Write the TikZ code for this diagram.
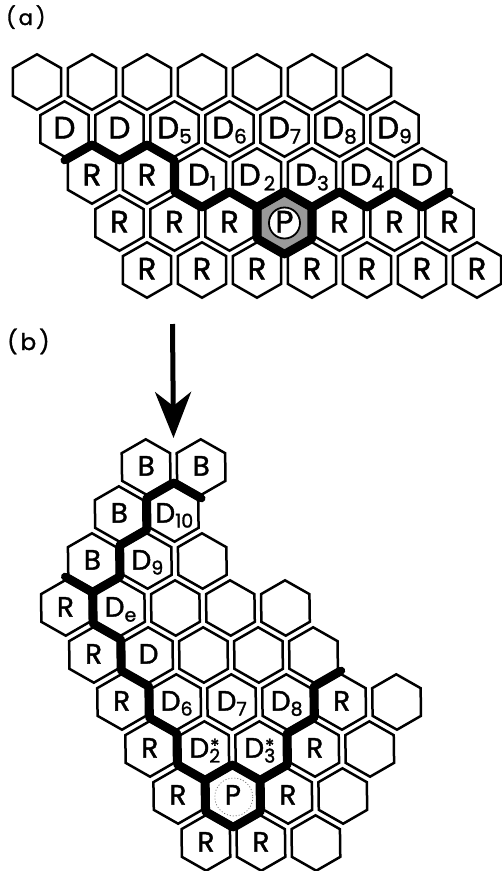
\documentclass[tikz,border=0pt]{standalone}
\usepackage{fontspec}
\setmainfont{Poppins}[FakeBold=1.4]
\usetikzlibrary{arrows.meta}
\tikzset{
  hexline/.style={line width=2.5pt, line join=miter},
  bnd/.style={line width=8pt, line cap=round, line join=round},
  lbla/.style={font=\fontsize{31}{31}\selectfont, inner sep=0pt, anchor=base},
  lblb/.style={font=\fontsize{28}{28}\selectfont, inner sep=0pt, anchor=base},
  partlbl/.style={inner sep=0pt, anchor=base west},
  bigarrow/.style={line width=5pt, -{Stealth[length=46pt, width=36pt, inset=14pt]}},
}
\newcommand\hexat[2]{\draw[hexline] (#1,#2) ++(0,-27.7) -- ++(24.2,13.85) -- ++(0,27.7) -- ++(-24.2,13.85) -- ++(-24.2,-13.85) -- ++(0,-27.7) -- cycle;}
\newcommand\ca[4]{\hexat{#2}{#3}\node[lbla] (#1) at (#2,#3+9.5) {#4};}
\newcommand\cb[4]{\hexat{#2}{#3}\node[lblb] (#1) at (#2,#3+8.6) {#4};}
\newcommand\lsuba[1]{\raisebox{-5pt}{\fontsize{20}{20}\selectfont #1}}
\newcommand\lsubb[1]{\raisebox{-5pt}{\fontsize{19}{19}\selectfont #1}}
\newcommand\lstar[1]{\makebox[0pt][l]{\hspace{1pt}\raisebox{5pt}{\fontsize{19}{19}\selectfont *}}\lsubb{#1}}
\begin{document}
\begin{tikzpicture}[x=1pt,y=-1pt]
\useasboundingbox (0,0) rectangle (502,871);

% ---------------- (a) ----------------
\node[partlbl, font=\fontsize{21}{21}\selectfont] (labela) at (6,25) {(\hspace{3pt}a\hspace{3pt})};

% grey ring of P
\fill[black!40] (284.5,223) ++(0,-27.7) -- ++(24.2,13.85) -- ++(0,27.7) -- ++(-24.2,13.85) -- ++(-24.2,-13.85) -- ++(0,-27.7) -- cycle;

% row 1
\foreach \i in {0,...,6} {\hexat{37+55*\i}{82}}
% row 2
\ca{a21}{64.5}{129}{D}
\ca{a22}{119.5}{129}{D}
\ca{a23}{174.5}{129}{D\lsuba{5}}
\ca{a24}{229.5}{129}{D\lsuba{6}}
\ca{a25}{284.5}{129}{D\lsuba{7}}
\ca{a26}{339.5}{129}{D\lsuba{8}}
\ca{a27}{394.5}{129}{D\lsuba{9}}
% row 3
\ca{a31}{92}{176}{R}
\ca{a32}{147}{176}{R}
\ca{a33}{202}{176}{D\lsuba{1}}
\ca{a34}{257}{176}{D\hspace{3pt}\lsuba{2}}
\ca{a35}{312}{176}{D\lsuba{3}}
\ca{a36}{367}{176}{D\lsuba{4}}
\ca{a37}{422}{176}{D}
% row 4
\ca{a41}{119.5}{223}{R}
\ca{a42}{174.5}{223}{R}
\ca{a43}{229.5}{223}{R}
\hexat{284.5}{223}
\ca{a45}{339.5}{223}{R}
\ca{a46}{394.5}{223}{R}
\ca{a47}{449.5}{223}{R}
% row 5
\ca{a51}{147}{270}{R}
\ca{a52}{202}{270}{R}
\ca{a53}{257}{270}{R}
\ca{a54}{312}{270}{R}
\ca{a55}{367}{270}{R}
\ca{a56}{422}{270}{R}
\ca{a57}{477}{270}{R}

% boundary (a)
\draw[bnd] (64.5,160.33) -- (92,144.67) -- (119.5,160.33) -- (147,144.67) -- (174.5,160.33)
  -- (174.5,191.67) -- (202,207.33) -- (229.5,191.67) -- (257,207.33) -- (284.5,191.67)
  -- (312,207.33) -- (339.5,191.67) -- (367,207.33) -- (394.5,191.67) -- (422,207.33) -- (449.5,191.67);
\draw[bnd] (284.5,191.67) -- (312,207.33) -- (312,238.67) -- (284.5,254.33) -- (257,238.67) -- (257,207.33) -- cycle;
\draw[line width=1.8pt, fill=white] (284.5,223) circle[radius=15.5];
\node[lbla] (a44) at (284.5,223+9.5) {P};

% ---------------- (b) ----------------
\node[partlbl, font=\fontsize{23}{23}\selectfont] (labelb) at (7,350) {(\hspace{3pt}b\hspace{3pt})};
\coordinate (arrowstart) at (172.5,324);
\coordinate (arrowtip) at (173.5,438);
\draw[bigarrow] (arrowstart) -- (arrowtip);

\begin{scope}[xshift=-8.36pt, xslant=-0.01277]
\cb{b11}{148.5}{467}{B}
\cb{b12}{203.5}{467}{B}
\cb{b21}{121}{514}{B}
\cb{b22}{176}{514}{D\lsubb{10}}
\cb{b31}{93.5}{561}{B}
\cb{b32}{148.5}{561}{D\lsubb{9}}
\cb{b33}{203.5}{561}{}
\cb{b41}{66}{608}{R}
\cb{b42}{121}{608}{D\lsubb{e}}
\cb{b43}{176}{608}{}
\cb{b44}{231}{608}{}
\cb{b45}{286}{608}{}
\cb{b51}{93.5}{655}{R}
\cb{b52}{148.5}{655}{D}
\cb{b53}{203.5}{655}{}
\cb{b54}{258.5}{655}{}
\cb{b55}{313.5}{655}{}
\cb{b61}{121}{702}{R}
\cb{b62}{176}{702}{D\lsubb{6}}
\cb{b63}{231}{702}{D\lsubb{7}}
\cb{b64}{286}{702}{D\lsubb{8}}
\cb{b65}{341}{702}{R}
\cb{b66}{396}{702}{}
\cb{b71}{148.5}{749}{R}
\cb{b72}{203.5}{749}{D\lstar{2}}
\cb{b73}{258.5}{749}{D\lstar{3}}
\cb{b74}{313.5}{749}{R}
\cb{b75}{368.5}{749}{}
\cb{b81}{176}{796}{R}
\cb{b82}{231}{796}{P}
\cb{b83}{286}{796}{R}
\cb{b84}{341}{796}{}
\cb{b91}{203.5}{843}{R}
\cb{b92}{258.5}{843}{R}
\cb{b93}{313.5}{843}{}

\draw[bnd] (203.5,498.33) -- (176,482.67) -- (148.5,498.33) -- (148.5,529.67) -- (121,545.33)
  -- (121,576.67) -- (93.5,592.33) -- (93.5,623.67) -- (121,639.33) -- (121,670.67)
  -- (148.5,686.33) -- (148.5,717.67) -- (176,733.33) -- (176,764.67) -- (203.5,780.33)
  -- (203.5,811.67) -- (231,827.33) -- (258.5,811.67) -- (258.5,780.33) -- (286,764.67)
  -- (286,733.33) -- (313.5,717.67) -- (313.5,686.33) -- (341,670.67);
\draw[bnd] (66,576.67) -- (93.5,592.33);
\draw[bnd] (203.5,780.33) -- (231,764.67) -- (258.5,780.33);
\draw[black!60, line width=0.7pt, dash pattern=on 1pt off 2pt] (232,797) circle[radius=19];
\end{scope}
\end{tikzpicture}
\end{document}
